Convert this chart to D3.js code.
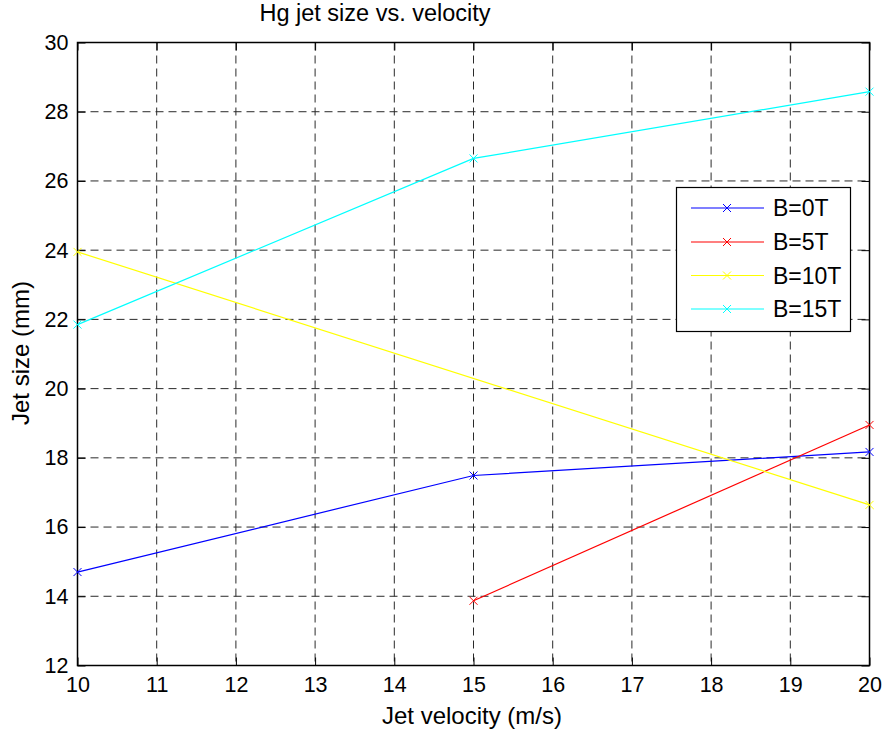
<!DOCTYPE html>
<meta charset="utf-8">
<style>
body { margin: 0; background: #fff; }
svg { font-family: "Liberation Sans", Arial, sans-serif; }
.tick text { font-size: 21.5px; fill: #000; }
.grid line { stroke: #2a2a2a; stroke-width: 1; stroke-dasharray: 8,5; }
</style>
<svg id="chart" width="885" height="730"></svg>
<script src="https://cdn.jsdelivr.net/npm/d3@7"></script>
<script>
// data
var velocities = [10, 15, 20];
var seriesNames = ["B=0T", "B=5T", "B=10T", "B=15T"];
var b0 = [14.70, 17.49, 18.17];
var b5 = [null, 13.87, 18.95];
var b10 = [23.95, null, 16.64];
var b15 = [21.85, 26.65, 28.58];
var xTicks = [10, 11, 12, 13, 14, 15, 16, 17, 18, 19, 20];
var yTicks = [12, 14, 16, 18, 20, 22, 24, 26, 28, 30];

var colors = ["#0000ff", "#ff0000", "#ffff00", "#00ffff"];
var allSeries = [b0, b5, b10, b15];

var svg = d3.select("#chart"),
    pLeft = 77.5, pRight = 869.5, pTop = 42.5, pBottom = 665.5;

var x = d3.scaleLinear().domain([10, 20]).range([pLeft, pRight]);
var y = d3.scaleLinear().domain([12, 30]).range([pBottom, pTop]);

// grid
var grid = svg.append("g").attr("class", "grid");
grid.selectAll(".vx").data(xTicks.slice(1, -1)).enter().append("line")
    .attr("x1", d => x(d)).attr("x2", d => x(d))
    .attr("y1", pTop).attr("y2", pBottom);
grid.selectAll(".hy").data(yTicks.slice(1, -1)).enter().append("line")
    .attr("y1", d => y(d)).attr("y2", d => y(d))
    .attr("x1", pLeft).attr("x2", pRight);

// axes, ticks pointing inward like matlab
var tl = 8;
svg.append("g").attr("transform", "translate(0," + pBottom + ")")
    .call(d3.axisBottom(x).tickValues(xTicks).tickSizeInner(-tl).tickSizeOuter(0).tickPadding(11))
    .call(g => g.select(".domain").remove());
svg.append("g").attr("transform", "translate(0," + pTop + ")")
    .call(d3.axisTop(x).tickValues(xTicks).tickSizeInner(-tl).tickSizeOuter(0).tickFormat(""))
    .call(g => g.select(".domain").remove());
svg.append("g").attr("transform", "translate(" + pLeft + ",0)")
    .call(d3.axisLeft(y).tickValues(yTicks).tickSizeInner(-tl).tickSizeOuter(0).tickPadding(9))
    .call(g => g.select(".domain").remove());
svg.append("g").attr("transform", "translate(" + pRight + ",0)")
    .call(d3.axisRight(y).tickValues(yTicks).tickSizeInner(-tl).tickSizeOuter(0).tickFormat(""))
    .call(g => g.select(".domain").remove());
svg.selectAll(".tick line").attr("stroke", "#000");

svg.append("rect")
    .attr("x", pLeft).attr("y", pTop)
    .attr("width", pRight - pLeft).attr("height", pBottom - pTop)
    .attr("fill", "none").attr("stroke", "#000").attr("stroke-width", 1.5);

// lines + x markers
var line = d3.line()
    .x(d => x(d[0])).y(d => y(d[1]));

function marker(g, cx, cy, col) {
  var s = 4;
  g.append("path")
    .attr("d", "M" + (cx - s) + "," + (cy - s) + "L" + (cx + s) + "," + (cy + s) +
               "M" + (cx - s) + "," + (cy + s) + "L" + (cx + s) + "," + (cy - s))
    .attr("stroke", col).attr("stroke-width", 1).attr("fill", "none");
}

allSeries.forEach(function(vals, i) {
  var pts = velocities.map((v, j) => [v, vals[j]]).filter(d => d[1] != null);
  var g = svg.append("g");
  g.append("path").datum(pts)
    .attr("d", line)
    .attr("fill", "none").attr("stroke", colors[i]).attr("stroke-width", 1.2);
  pts.forEach(d => marker(g, x(d[0]), y(d[1]), colors[i]));
});

// legend
var lg = svg.append("g");
lg.append("rect").attr("x", 676.5).attr("y", 187.5).attr("width", 174).attr("height", 144)
  .attr("fill", "#fff").attr("stroke", "#000").attr("stroke-width", 1.2);
var rowY = [208, 242, 275.5, 309];
seriesNames.forEach(function(name, i) {
  lg.append("line").attr("x1", 691).attr("x2", 764).attr("y1", rowY[i]).attr("y2", rowY[i])
    .attr("stroke", colors[i]).attr("stroke-width", 1.2);
  marker(lg, 727, rowY[i], colors[i]);
  lg.append("text").attr("x", 773).attr("y", rowY[i]).attr("dy", "0.36em")
    .attr("font-size", 23).text(name);
});

// title and labels
svg.append("text").attr("x", 375).attr("y", 21).attr("text-anchor", "middle")
  .attr("font-size", 23.5).text("Hg jet size vs. velocity");
svg.append("text").attr("x", 472).attr("y", 724).attr("text-anchor", "middle")
  .attr("font-size", 24).text("Jet velocity (m/s)");
svg.append("text").attr("transform", "translate(29,353) rotate(-90)")
  .attr("text-anchor", "middle").attr("font-size", 24).text("Jet size (mm)");
</script>
